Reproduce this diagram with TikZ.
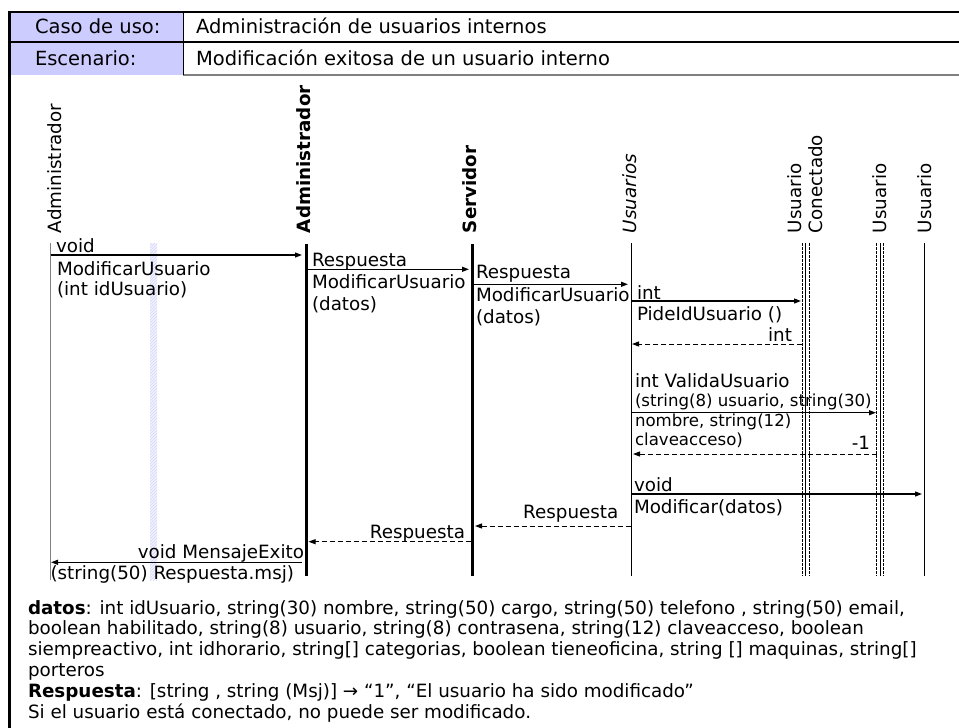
\documentclass[tikz,border=0pt]{standalone}
\usepackage{fontspec}
\setmainfont{DejaVu Sans}
\usetikzlibrary{arrows.meta,patterns}
\definecolor{lav}{RGB}{204,204,255}
\definecolor{lavlight}{RGB}{242,242,255}
\definecolor{hatch}{RGB}{212,212,248}
\definecolor{midgray}{RGB}{128,128,128}
\begin{document}
\begin{tikzpicture}[x=1pt,y=-1pt,
  every node/.style={inner sep=0pt, outer sep=0pt, font=\fontsize{18.3}{21}\selectfont},
  txt/.style={anchor=base west},
  txtr/.style={anchor=base east},
  hdr/.style={anchor=base west, font=\fontsize{19.5}{22}\selectfont},
  smalltxt/.style={anchor=base west, font=\fontsize{16.6}{18}\selectfont},
  head/.style={rotate=90, anchor=west},
  msg/.style={line width=1.2pt, -{Triangle[length=7pt,width=5pt]}},
  ret/.style={line width=1pt, dash pattern=on 5pt off 3pt, -{Triangle[length=7pt,width=5pt]}},
  thinlife/.style={line width=1pt},
  thicklife/.style={line width=3pt},
  dashlife/.style={line width=0.8pt, dash pattern=on 2.5pt off 1.5pt}
]
\useasboundingbox (0,0) rectangle (959,728);

% ---- header table ----
\fill[lav] (9,12) rectangle (183,75);
\draw[line width=2pt] (8,12) -- (959,12);
\draw[line width=1.3pt] (8,42) -- (959,42);
\draw[line width=2pt, midgray] (183,75) -- (959,75);
\draw[line width=1pt] (183,12) -- (183,75);
\draw[line width=2.5pt] (9.5,11) -- (9.5,728);

\node[hdr] (caso) at (35,33) {Caso de uso:};
\node[hdr] (casoval) at (196,33) {Administración de usuarios internos};
\node[hdr] (esc) at (35,65) {Escenario:};
\node[hdr] (escval) at (196,65) {Modificación exitosa de un usuario interno};

% ---- lifeline heads ----
\node[head] (hActor) at (54.5,233) {Administrador};
\node[head, font=\fontsize{18.3}{21}\selectfont\bfseries] (hAdmin) at (303.5,233) {Administrador};
\node[head, font=\fontsize{18.3}{21}\selectfont\bfseries] (hServ) at (470,233) {Servidor};
\node[head, font=\fontsize{18.3}{21}\selectfont\itshape] (hUsrs) at (629.5,233) {Usuarios};
\node[head, align=left] (hConn) at (805.5,233) {Usuario\\Conectado};
\node[head] (hUsr) at (879.5,233) {Usuario};
\node[head] (hUsr2) at (924.5,233) {Usuario};

% ---- lifelines ----
\coordinate (actorT) at (50.5,243);  \coordinate (actorB) at (50.5,580);
\coordinate (adminT) at (306,244);   \coordinate (adminB) at (306,576);
\coordinate (servT) at (472,244);    \coordinate (servB) at (472,576);
\coordinate (usrsT) at (631,243);    \coordinate (usrsB) at (631,576);
\coordinate (connT) at (805,243);    \coordinate (connB) at (805,576);
\coordinate (usrT) at (880,243);     \coordinate (usrB) at (880,576);
\coordinate (usr2T) at (924,243);    \coordinate (usr2B) at (924,576);

% faint hatched band beside the actor
\fill[lavlight] (150,243) rectangle (157,580);
\fill[pattern=north east lines, pattern color=hatch] (150,243) rectangle (157,580);

\draw[line width=1.6pt, midgray] (actorT) -- (actorB);
\draw[thicklife] (adminT) -- (adminB);
\draw[thicklife] (servT) -- (servB);
\draw[thinlife] (usrsT) -- (usrsB);
\draw[thinlife] (connT) -- (connB);
\draw[dashlife] ([xshift=-3pt]connT) -- ([xshift=-3pt]connB);
\draw[dashlife] ([xshift=4.3pt]connT) -- ([xshift=4.3pt]connB);
\draw[thinlife] (usrT) -- (usrB);
\draw[dashlife] ([xshift=-3.3pt]usrT) -- ([xshift=-3.3pt]usrB);
\draw[dashlife] ([xshift=3.3pt]usrT) -- ([xshift=3.3pt]usrB);
\draw[thinlife] (usr2T) -- (usr2B);

% ---- messages ----
% 1 actor -> Administrador
\coordinate (m1a) at (50.5,255); \coordinate (m1b) at (302,255);
\draw[msg] (m1a) -- (m1b);
\node[txt] (l1a) at (56,252.5) {void};
\node[txt] (l1b) at (57,275) {ModificarUsuario};
\node[txt] (l1c) at (57,295.5) {(int idUsuario)};

% 2 Administrador -> Servidor
\coordinate (m2a) at (307.5,269.3); \coordinate (m2b) at (469,269.3);
\draw[msg] (m2a) -- (m2b);
\node[txt] (l2a) at (312,266.5) {Respuesta};
\node[txt] (l2b) at (312,288.3) {ModificarUsuario};
\node[txt] (l2c) at (312,310) {(datos)};

% 3 Servidor -> Usuarios
\coordinate (m3a) at (473.5,284.3); \coordinate (m3b) at (628,284.3);
\draw[msg] (m3a) -- (m3b);
\node[txt] (l3a) at (476,278.3) {Respuesta};
\node[txt] (l3b) at (476,301.7) {ModificarUsuario};
\node[txt] (l3c) at (476,323) {(datos)};

% 4 Usuarios -> Usuario Conectado
\coordinate (m4a) at (631.5,301); \coordinate (m4b) at (801,301);
\draw[msg] (m4a) -- (m4b);
\node[txt] (l4a) at (637,299) {int};
\node[txt] (l4b) at (637,320.5) {PideIdUsuario ()};

% 5 return int
\coordinate (m5a) at (802,344); \coordinate (m5b) at (632,344);
\draw[ret] (m5a) -- (m5b);
\node[txtr] (l5a) at (792,341) {int};

% 6 Usuarios -> Usuario
\coordinate (m6a) at (631.5,412.7); \coordinate (m6b) at (876,412.7);
\draw[msg] (m6a) -- (m6b);
\node[txt] (l6a) at (635,387.7) {int ValidaUsuario};
\node[smalltxt] (l6b) at (635,406.7) {(string(8) usuario, string(30)};
\node[smalltxt] (l6c) at (635,426.7) {nombre, string(12)};
\node[smalltxt] (l6d) at (635,445) {claveacceso)};

% 7 return -1
\coordinate (m7a) at (877,454); \coordinate (m7b) at (633,454);
\draw[ret] (m7a) -- (m7b);
\node[txtr] (l7a) at (870,449) {-1};

% 8 Usuarios -> Usuario
\coordinate (m8a) at (631.5,494); \coordinate (m8b) at (922,494);
\draw[msg] (m8a) -- (m8b);
\node[txt] (l8a) at (634,491) {void};
\node[txt] (l8b) at (634,513) {Modificar(datos)};

% 9 return Usuarios -> Servidor
\coordinate (m9a) at (631,526); \coordinate (m9b) at (475,526);
\draw[ret] (m9a) -- (m9b);
\node[txtr] (l9a) at (618.3,518.3) {Respuesta};

% 10 return Servidor -> Administrador
\coordinate (m10a) at (470.5,541.7); \coordinate (m10b) at (308.5,541.7);
\draw[ret] (m10a) -- (m10b);
\node[txtr] (l10a) at (465,538.3) {Respuesta};

% 11 Administrador -> actor
\coordinate (m11a) at (302,562.3); \coordinate (m11b) at (51,562.3);
\draw[msg] (m11a) -- (m11b);
\node[txtr] (l11a) at (304,558.3) {void MensajeExito};
\node[txt] (l11b) at (50.5,579) {(string(50) Respuesta.msj)};

% ---- notes ----
\node[txt] (n1) at (28,614) {\textbf{datos}: int idUsuario, string(30) nombre, string(50) cargo, string(50) telefono , string(50) email,};
\node[txt] (n2) at (28,634.8) {boolean habilitado, string(8) usuario, string(8) contrasena, string(12) claveacceso, boolean};
\node[txt] (n3) at (28,655.6) {siempreactivo, int idhorario, string[] categorias, boolean tieneoficina, string [] maquinas, string[]};
\node[txt] (n4) at (28,676.4) {porteros};
\node[txt] (n5) at (28,697.2) {\textbf{Respuesta}: [string , string (Msj)] → “1”, “El usuario ha sido modificado”};
\node[txt] (n6) at (28,718) {Si el usuario está conectado, no puede ser modificado.};
\end{tikzpicture}
\end{document}
